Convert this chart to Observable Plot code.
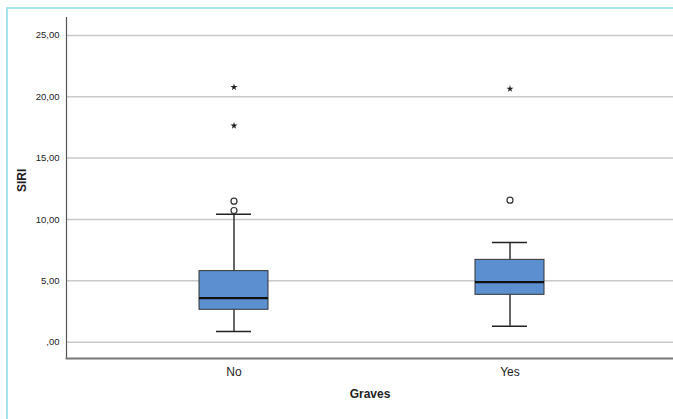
<!DOCTYPE html>
<html>
<head>
<meta charset="utf-8">
<script src="https://cdn.jsdelivr.net/npm/d3@7"></script>
<script src="https://cdn.jsdelivr.net/npm/@observablehq/plot@0.6"></script>
<style>
  html, body { margin: 0; padding: 0; background: #fff; overflow: hidden; }
  #wrap { position: relative; width: 673px; height: 419px; overflow: hidden; font-family: Arial, "Liberation Sans", sans-serif; }
  #border { position: absolute; left: 6px; top: 7px; width: 700px; height: 450px; border-left: 2px solid #a8e2ea; border-top: 2px solid #a8e2ea; }
  #chart { position: absolute; left: 0; top: 0; }
</style>
</head>
<body>
<div id="wrap"><div id="border"></div><div id="chart"></div></div>
<script>
const categories = ["No", "Yes"];
const whiskerLow = [0.87, 1.30];
const q1 = [2.64, 3.86];
const median = [3.59, 4.89];
const q3 = [5.79, 6.71];
const whiskerHigh = [10.43, 8.13];
const outlierCats = ["No", "No", "Yes"];
const outlierVals = [10.73, 11.49, 11.57];
const extremeCats = ["No", "No", "Yes"];
const extremeVals = [20.78, 17.64, 20.65];
const yTicks = [0, 5, 10, 15, 20, 25];

const stats = categories.map((c, i) => ({
  cat: c, lo: whiskerLow[i], q1: q1[i], med: median[i], q3: q3[i], hi: whiskerHigh[i]
}));
const outliers = outlierCats.map((c, i) => ({cat: c, v: outlierVals[i]}));
const extremes = extremeCats.map((c, i) => ({cat: c, v: extremeVals[i]}));

const fmt = d => d === 0 ? ",00" : d.toFixed(2).replace(".", ",");

const chart = Plot.plot({
  width: 673,
  height: 419,
  marginLeft: 66,
  marginRight: 0,
  marginTop: 17,
  marginBottom: 61,
  style: {fontFamily: "Arial, 'Liberation Sans', sans-serif", background: "transparent"},
  x: {domain: categories, paddingInner: 0.75, paddingOuter: 0.4746, align: 0.506, label: null},
  y: {domain: [-1.33, 26.46], label: null},
  marks: [
    Plot.gridY(yTicks, {stroke: "#c8c8c8", strokeOpacity: 1, strokeWidth: 1.5}),
    Plot.axisY({ticks: yTicks, tickFormat: fmt, tickSize: 0, tickPadding: 7, fontSize: 9.5, color: "#222", label: null}),
    Plot.axisX({tickSize: 0, tickPadding: 9, fontSize: 12, color: "#222", label: null}),
    Plot.frame({anchor: "left", stroke: "#555", strokeWidth: 1.2}),
    Plot.frame({anchor: "bottom", stroke: "#777", strokeWidth: 1.8}),
    Plot.ruleX(stats, {x: "cat", y1: "lo", y2: "q1", stroke: "#333", strokeWidth: 1.5}),
    Plot.ruleX(stats, {x: "cat", y1: "q3", y2: "hi", stroke: "#333", strokeWidth: 1.5}),
    Plot.tickY(stats, {x: "cat", y: "lo", stroke: "#222", strokeWidth: 1.5, insetLeft: 17, insetRight: 17}),
    Plot.tickY(stats, {x: "cat", y: "hi", stroke: "#222", strokeWidth: 1.5, insetLeft: 17, insetRight: 17}),
    Plot.barY(stats, {x: "cat", y1: "q1", y2: "q3", fill: "#5b8fcf", stroke: "#333", strokeWidth: 1}),
    Plot.tickY(stats, {x: "cat", y: "med", stroke: "#111", strokeWidth: 2.2}),
    Plot.dot(outliers, {x: "cat", y: "v", r: 3, stroke: "#333", strokeWidth: 1.2, fill: "white"}),
    Plot.dot(extremes, {x: "cat", y: "v", symbol: "star", r: 2.2, fill: "#222", stroke: "none"}),
    Plot.text(["Graves"], {text: d => d, frameAnchor: "bottom", dy: 39, fontWeight: "bold", fontSize: 12, fill: "#222"}),
    Plot.text(["SIRI"], {text: d => d, frameAnchor: "left", dx: -44, dy: 4, rotate: -90, fontWeight: "bold", fontSize: 12, fill: "#222"})
  ]
});
document.getElementById("chart").appendChild(chart);
</script>
</body>
</html>
